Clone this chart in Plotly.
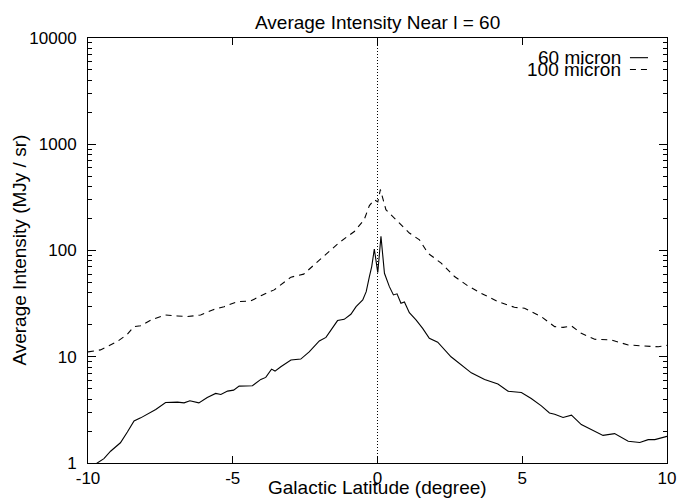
import plotly.graph_objects as go

# 60 micron series
lat60 = [-10.0, -9.85, -9.68, -9.45, -9.22, -8.88, -8.64, -8.41, -8.18, -7.90, -7.66, -7.32,
         -6.91, -6.68, -6.48, -6.17, -5.88, -5.59, -5.41, -5.18, -4.97, -4.78, -4.32, -4.03,
         -3.86, -3.66, -3.54, -3.34, -2.99, -2.65, -2.36, -2.01, -1.78, -1.38, -1.15, -0.92,
         -0.74, -0.51, -0.39, -0.28, -0.20, -0.11, 0.01, 0.12, 0.24, 0.41, 0.55, 0.675, 0.81,
         0.93, 1.10, 1.33, 1.56, 1.79, 2.08, 2.54, 2.89, 3.24, 3.70, 4.16, 4.51, 4.97, 5.31,
         5.66, 5.94, 6.12, 6.41, 6.70, 7.04, 7.33, 7.79, 8.19, 8.66, 9.06, 9.35, 9.58, 9.95, 10.0]
int60 = [0.88, 0.95, 1.0, 1.1, 1.29, 1.55, 1.96, 2.49, 2.66, 2.92, 3.19, 3.71,
         3.74, 3.68, 3.85, 3.68, 4.14, 4.52, 4.41, 4.75, 4.85, 5.29, 5.34, 6.12,
         6.39, 7.65, 7.33, 8.05, 9.31, 9.51, 11.1, 14.1, 15.2, 21.9, 22.5, 25.1,
         29.6, 34.3, 41.0, 56.9, 70.6, 103.0, 62.0, 136.0, 61.0, 45.7, 38.2, 39.1, 31.9,
         32.8, 26.0, 22.2, 18.5, 14.9, 13.7, 10.0, 8.47, 7.06, 6.11, 5.53, 4.74, 4.61, 4.05,
         3.45, 2.96, 2.88, 2.68, 2.82, 2.30, 2.11, 1.82, 1.89, 1.60, 1.56, 1.66, 1.66, 1.76, 1.78]

# 100 micron series
lat100 = [-10.0, -9.57, -8.99, -8.64, -8.42, -8.18, -7.78, -7.32, -6.91, -6.57, -6.11, -5.70,
          -5.30, -4.84, -4.38, -3.97, -3.57, -2.99, -2.55, -2.19, -1.72, -1.32, -0.80, -0.46,
          -0.28, -0.11, 0.01, 0.10, 0.29, 0.70, 1.10, 1.45, 1.74, 2.20, 2.66, 3.12, 3.58,
          4.16, 4.73, 5.08, 5.66, 6.12, 6.41, 6.70, 7.04, 7.50, 8.08, 8.66, 9.23, 9.70, 10.0]
int100 = [11.1, 11.6, 13.9, 16.3, 19.2, 19.6, 22.5, 24.7, 24.2, 23.9, 24.7, 27.6,
          29.6, 33.0, 33.5, 38.2, 42.6, 56.1, 59.9, 73.3, 94.5, 119.0, 151.0, 195.0,
          265.0, 300.0, 287.0, 375.0, 242.0, 188.0, 146.0, 126.0, 94.5, 76.0, 56.9, 46.5, 39.6,
          33.0, 29.2, 28.6, 23.8, 19.2, 18.9, 19.5, 16.6, 14.6, 14.4, 12.9, 12.6, 12.4, 12.8]

x_ticks = [-10, -5, 0, 5, 10]
x_ticklabels = ["-10", "-5", "0", "5", "10"]
y_ticks = [1, 10, 100, 1000, 10000]
y_ticklabels = ["1", "10", "100", "1000", "10000"]
y_minor = [m * 10 ** k for k in range(4) for m in range(2, 10)]

FONT = "Liberation Sans, Arial, Helvetica, sans-serif"
TXT = 19
TICK = 17

fig = go.Figure()
fig.add_trace(go.Scatter(x=lat60, y=int60, mode="lines", name="60 micron",
                         line=dict(color="black", width=1.1), showlegend=False))
fig.add_trace(go.Scatter(x=lat100, y=int100, mode="lines", name="100 micron",
                         line=dict(color="black", width=1.1, dash="6px,5px"), showlegend=False))

# vertical dotted line at 0
fig.add_shape(type="line", xref="x", yref="paper", x0=0, x1=0, y0=0, y1=1,
              line=dict(color="black", width=1, dash="1px,2px"))

# legend keys (text left, line sample right)
fig.add_annotation(text="60 micron", xref="paper", yref="paper", x=0.9226, y=0.953,
                   xanchor="right", yanchor="middle", showarrow=False, borderpad=0,
                   font=dict(family=FONT, size=TXT, color="black"))
fig.add_annotation(text="100 micron", xref="paper", yref="paper", x=0.9226, y=0.925,
                   xanchor="right", yanchor="middle", showarrow=False, borderpad=0,
                   font=dict(family=FONT, size=TXT, color="black"))
fig.add_shape(type="line", xref="paper", yref="paper", x0=0.936, x1=0.9672, y0=0.9537, y1=0.9537,
              line=dict(color="black", width=1.1))
fig.add_shape(type="line", xref="paper", yref="paper", x0=0.936, x1=0.9672, y0=0.926, y1=0.926,
              line=dict(color="black", width=1.1, dash="6px,5px"))

# title and axis titles
fig.add_annotation(text="Average Intensity Near l = 60", xref="paper", yref="paper",
                   x=0.5, y=1.0365, xanchor="center", yanchor="middle", showarrow=False,
                   font=dict(family=FONT, size=TXT, color="black"))
fig.add_annotation(text="Galactic Latitude (degree)", xref="paper", yref="paper",
                   x=0.5, y=-0.0588, xanchor="center", yanchor="middle", showarrow=False,
                   font=dict(family=FONT, size=TXT, color="black"))
fig.add_annotation(text="Average Intensity (MJy / sr)", xref="paper", yref="paper",
                   x=-0.119, y=0.5, xanchor="center", yanchor="middle", showarrow=False,
                   textangle=-90, font=dict(family=FONT, size=TXT, color="black"))

fig.update_xaxes(range=[-10, 10], tickvals=x_ticks, ticktext=x_ticklabels,
                 ticks="inside", ticklen=7, tickcolor="black", tickwidth=1,
                 showline=True, linecolor="black", linewidth=1, mirror="allticks",
                 showgrid=False, zeroline=False, automargin=False,
                 tickfont=dict(family=FONT, size=TICK, color="black"))
fig.update_yaxes(type="log", range=[0, 4], tickvals=y_ticks, ticktext=y_ticklabels,
                 ticks="inside", ticklen=8, tickcolor="black", tickwidth=1,
                 minor=dict(tickvals=y_minor, ticks="inside", ticklen=4, tickcolor="black",
                            tickwidth=1, showgrid=False),
                 showline=True, linecolor="black", linewidth=1, mirror="allticks",
                 showgrid=False, zeroline=False, automargin=False, ticklabelstandoff=7,
                 tickfont=dict(family=FONT, size=TICK, color="black"))

fig.update_layout(template="none", width=682, height=500,
                  margin=dict(l=88, r=15, t=38, b=37),
                  plot_bgcolor="white", paper_bgcolor="white",
                  font=dict(family=FONT, size=TXT, color="black"))

fig.write_html("out.html")
